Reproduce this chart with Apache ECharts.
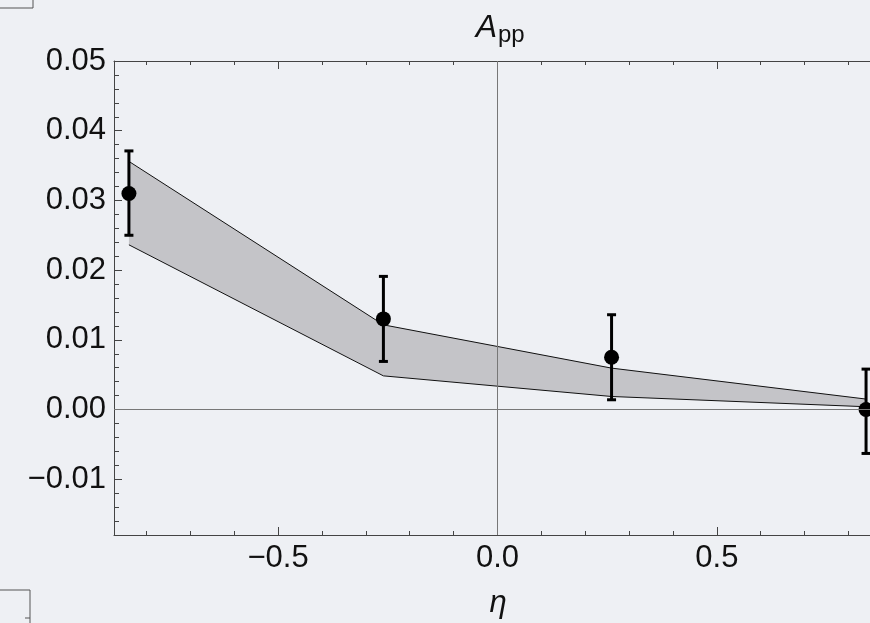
<!DOCTYPE html>
<html><head><meta charset="utf-8">
<script src="https://cdn.jsdelivr.net/npm/echarts@6/dist/echarts.min.js"></script>
<style>html,body{margin:0;padding:0;background:#eef0f4;overflow:hidden;}#c{width:870px;height:623px;}</style>
</head><body><div id="c"></div>
<script>
// ---- data ----
var etaValues = [-0.84, -0.26, 0.26, 0.84];
var asymValues = [0.031, 0.013, 0.0075, 0.0];
var errHigh = [0.0371, 0.0191, 0.0136, 0.0058];
var errLow = [0.0250, 0.0069, 0.0014, -0.0063];
var bandUpper = [0.0356, 0.01215, 0.00594, 0.0015];
var bandLower = [0.02363, 0.00483, 0.00187, 0.0004];
var xMajorTicks = [-0.5, 0.0, 0.5];
var xMinorTicks = [-0.8, -0.7, -0.6, -0.4, -0.3, -0.2, -0.1, 0.1, 0.2, 0.3, 0.4, 0.6, 0.7, 0.8];
var yMajorTicks = [-0.01, 0.00, 0.01, 0.02, 0.03, 0.04, 0.05];
var yMinorTicks = [-0.016, -0.014, -0.012, -0.008, -0.006, -0.004, -0.002, 0.002, 0.004, 0.006, 0.008,
  0.012, 0.014, 0.016, 0.018, 0.022, 0.024, 0.026, 0.028, 0.032, 0.034, 0.036, 0.038, 0.042, 0.044, 0.046, 0.048];
var xRange = [-0.874, 0.849];   // visible part of the plot (right side cut off in the original)
var yRange = [-0.018, 0.05];

var FONT = '"Liberation Sans", Arial, Helvetica, sans-serif';
var frameColor = '#444';
function fmtSigned(v, d) { return (v < 0 ? '\u2212' : '') + Math.abs(v).toFixed(d); }

function xAx(pos, ticks, len, line, labels) {
  return {
    type: 'value', position: pos, min: xRange[0], max: xRange[1],
    axisLine: { show: line, onZero: false, lineStyle: { color: frameColor, width: 1 } },
    axisTick: { show: true, inside: true, length: len, customValues: ticks, lineStyle: { color: frameColor, width: 1 } },
    axisLabel: labels ? { show: true, customValues: ticks, margin: 8, fontSize: 31, color: '#111', fontFamily: FONT,
      formatter: function (v) { return fmtSigned(v, 1); } } : { show: false },
    splitLine: { show: false }
  };
}
function yAx(pos, ticks, len, line, labels) {
  return {
    type: 'value', position: pos, min: yRange[0], max: yRange[1],
    axisLine: { show: line, onZero: false, lineStyle: { color: frameColor, width: 1 } },
    axisTick: { show: true, inside: true, length: len, customValues: ticks, lineStyle: { color: frameColor, width: 1 } },
    axisLabel: labels ? { show: true, customValues: ticks, margin: 8, fontSize: 31, color: '#111', fontFamily: FONT,
      formatter: function (v) { return fmtSigned(v, 2); } } : { show: false },
    splitLine: { show: false }
  };
}

var chart = echarts.init(document.getElementById('c'), null, { renderer: 'canvas' });
var option = {
  backgroundColor: '#eef0f4',
  animation: false,
  grid: { left: 114, top: 61, right: 0, bottom: 88, containLabel: false },
  xAxis: [
    xAx('bottom', xMajorTicks, 8, true, true),
    xAx('bottom', xMinorTicks, 4, false, false),
    xAx('top', xMajorTicks, 8, true, false),
    xAx('top', xMinorTicks, 4, false, false)
  ],
  yAxis: [
    yAx('left', yMajorTicks, 8, true, true),
    yAx('left', yMinorTicks, 5, false, false)
  ],
  graphic: [
    { type: 'text', x: 497, y: 12, style: { text: 'A', font: 'italic 32px ' + FONT, fill: '#111', align: 'right', verticalAlign: 'top' } },
    { type: 'text', x: 498, y: 23, style: { text: 'pp', font: '24px ' + FONT, fill: '#111', align: 'left', verticalAlign: 'top' } },
    { type: 'text', x: 498, y: 588, style: { text: '\u03B7', font: 'italic 31px ' + FONT, fill: '#111', align: 'center', verticalAlign: 'top' } },
    { type: 'polyline', shape: { points: [[0, 8], [33, 8], [33, 0]] }, style: { stroke: '#555', lineWidth: 1, fill: null } },
    { type: 'polyline', shape: { points: [[0, 590], [30, 590], [30, 623]] }, style: { stroke: '#555', lineWidth: 1, fill: null } },
    { type: 'line', shape: { x1: 25, y1: 618, x2: 30, y2: 618 }, style: { stroke: '#555', lineWidth: 1 } }
  ],
  series: [
    {
      type: 'custom', name: 'band', data: [0], z: 1, silent: true,
      renderItem: function (params, api) {
        var pts = [];
        for (var i = 0; i < etaValues.length; i++) pts.push(api.coord([etaValues[i], bandUpper[i]]));
        for (var j = etaValues.length - 1; j >= 0; j--) pts.push(api.coord([etaValues[j], bandLower[j]]));
        return { type: 'polygon', shape: { points: pts }, style: { fill: '#c4c4c8', stroke: null } };
      }
    },
    {
      type: 'line', name: 'upper', z: 2, silent: true, showSymbol: false, symbol: 'none',
      data: etaValues.map(function (x, i) { return [x, bandUpper[i]]; }),
      lineStyle: { color: '#111', width: 1 },
      markLine: {
        silent: true, symbol: 'none', label: { show: false },
        lineStyle: { color: '#777', width: 1, type: 'solid' },
        data: [{ xAxis: 0 }, { yAxis: 0 }]
      }
    },
    {
      type: 'line', name: 'lower', z: 2, silent: true, showSymbol: false, symbol: 'none',
      data: etaValues.map(function (x, i) { return [x, bandLower[i]]; }),
      lineStyle: { color: '#111', width: 1 }
    },
    {
      type: 'custom', name: 'errors', z: 3, silent: true,
      data: etaValues.map(function (x, i) { return [x, errLow[i], errHigh[i]]; }),
      renderItem: function (params, api) {
        var top = api.coord([api.value(0), api.value(2)]);
        var bot = api.coord([api.value(0), api.value(1)]);
        var hw = 4.5;
        var st = { stroke: '#000', lineWidth: 3 };
        return { type: 'group', children: [
          { type: 'line', shape: { x1: top[0], y1: top[1], x2: bot[0], y2: bot[1] }, style: st },
          { type: 'line', shape: { x1: top[0] - hw, y1: top[1], x2: top[0] + hw, y2: top[1] }, style: st },
          { type: 'line', shape: { x1: bot[0] - hw, y1: bot[1], x2: bot[0] + hw, y2: bot[1] }, style: st }
        ] };
      }
    },
    {
      type: 'scatter', name: 'points', z: 4, symbol: 'circle', symbolSize: 15, clip: false,
      itemStyle: { color: '#000', opacity: 1 },
      data: etaValues.map(function (x, i) { return [x, asymValues[i]]; })
    }
  ]
};
chart.setOption(option);
</script>
</body></html>
